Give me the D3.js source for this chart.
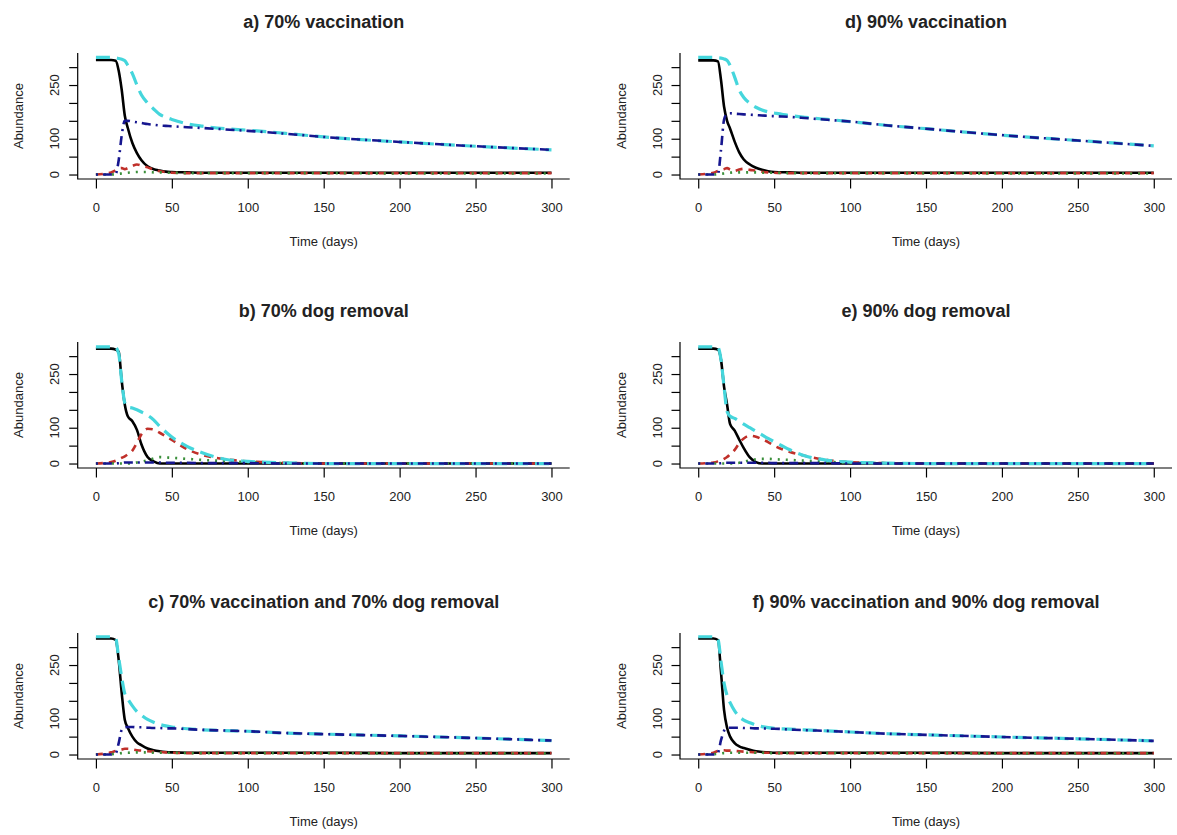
<!DOCTYPE html>
<html>
<head>
<meta charset="utf-8">
<script src="https://cdn.jsdelivr.net/npm/d3@7"></script>
<style>
  body { margin: 0; background: #fff; }
  svg { font-family: "Liberation Sans", Arial, sans-serif; }
</style>
</head>
<body>
<svg id="chart" width="1177" height="835"></svg>
<script>
// shared time grid (days)
const days = [0, 10, 13, 15, 17, 19, 21, 24, 27, 30, 34, 38, 42, 46, 50, 60, 70, 85, 100, 125, 150, 200, 250, 300];

// a) 70% vaccination
const aSus = [320, 320, 318, 290, 236, 165, 130, 88, 60, 40, 23, 15, 11, 8, 7, 6, 5, 5, 5, 5, 5, 5, 5, 5];
const aExp = [0, 6, 12, 17, 18, 15, 18, 24, 28, 25, 20, 14, 9, 7, 5, 4, 4, 4, 4, 4, 4, 4, 4, 4];
const aInf = [0, 0, 1, 2, 3, 4, 5, 6, 7, 7, 7, 6, 6, 5, 5, 4, 4, 4, 4, 4, 4, 3, 3, 3];
const aTot = [327, 327, 326, 324, 322, 318, 305, 282, 250, 222, 200, 183, 168, 160, 154, 142, 135, 128, 124, 115, 105, 91, 79, 69];
const aVac = [0, 0, 2, 40, 110, 150, 150, 148, 146, 144, 141, 139, 137, 136, 135, 132, 130, 126, 122, 114, 105, 91, 79, 69];

// b) 70% dog removal
const bSus = [321, 321, 318, 312, 230, 165, 132, 118, 94, 53, 18, 6, 0, 0, 0, 0, 0, 0, 0, 0, 0, 0, 0, 0];
const bExp = [0, 4, 8, 12, 16, 20, 26, 36, 58, 82, 97, 95, 86, 76, 66, 40, 24, 12, 6, 2, 0, 0, 0, 0];
const bInf = [0, 0, 0, 0, 0, 0, 0, 1, 3, 5, 9, 14, 18, 17, 16, 13, 10, 7, 4, 1, 0, 0, 0, 0];
const bTot = [326, 326, 324, 307, 230, 170, 158, 155, 150, 144, 135, 122, 104, 88, 74, 48, 30, 12, 6, 2, 0, 0, 0, 0];
const bVac = [0, 0, 0, 1, 2, 3, 3, 3, 3, 3, 3, 3, 3, 2, 2, 2, 1, 1, 1, 0, 0, 0, 0, 0];

// c) 70% vaccination and 70% dog removal
const cSus = [324, 324, 320, 264, 171, 97, 75, 50, 34, 26, 17, 12, 9, 7, 6, 5, 5, 5, 5, 5, 5, 4, 4, 4];
const cExp = [0, 6, 10, 12, 14, 16, 16, 14, 12, 11, 9, 8, 7, 6, 5, 4, 4, 4, 4, 4, 4, 4, 4, 4];
const cInf = [0, 1, 2, 3, 4, 5, 5, 6, 6, 6, 6, 5, 5, 5, 5, 4, 4, 4, 4, 4, 4, 3, 3, 3];
const cTot = [329, 329, 325, 270, 215, 170, 155, 136, 120, 110, 98, 90, 84, 80, 77, 72, 69, 67, 65, 60, 57, 52, 46, 39];
const cVac = [0, 0, 3, 32, 69, 76, 77, 77, 76, 76, 75, 74, 74, 73, 73, 71, 69, 67, 65, 60, 57, 52, 46, 39];

// d) 90% vaccination
const dSus = [319, 319, 316, 264, 190, 150, 128, 92, 62, 42, 28, 19, 13, 9, 7, 6, 5, 5, 5, 5, 5, 5, 5, 5];
const dExp = [0, 5, 10, 13, 15, 18, 14, 10, 14, 16, 13, 11, 8, 6, 5, 4, 4, 4, 4, 4, 4, 4, 4, 4];
const dInf = [0, 0, 1, 2, 3, 4, 5, 6, 6, 6, 6, 6, 5, 5, 5, 4, 4, 4, 4, 4, 4, 3, 3, 3];
const dTot = [327, 327, 326, 325, 323, 319, 305, 272, 236, 215, 199, 188, 180, 175, 172, 165, 160, 154, 148, 137, 128, 110, 95, 80];
const dVac = [0, 0, 2, 69, 153, 170, 171, 170, 169, 168, 167, 166, 165, 164, 163, 161, 158, 153, 148, 137, 128, 110, 95, 80];

// e) 90% dog removal
const eSus = [321, 321, 318, 290, 215, 165, 110, 92, 67, 43, 17, 4, 0, 0, 0, 0, 0, 0, 0, 0, 0, 0, 0, 0];
const eExp = [0, 3, 6, 9, 13, 18, 26, 38, 57, 70, 78, 75, 68, 60, 50, 33, 22, 10, 4, 1, 0, 0, 0, 0];
const eInf = [0, 0, 0, 0, 0, 0, 0, 1, 2, 5, 9, 12, 13, 13, 12, 10, 8, 5, 2, 1, 0, 0, 0, 0];
const eTot = [326, 326, 324, 290, 215, 145, 132, 126, 118, 110, 100, 90, 80, 70, 61, 39, 22, 9, 4, 1, 0, 0, 0, 0];
const eVac = [0, 0, 0, 1, 2, 2, 2, 2, 2, 2, 2, 2, 2, 2, 1, 1, 1, 1, 0, 0, 0, 0, 0, 0];

// f) 90% vaccination and 90% dog removal
const fSus = [324, 324, 320, 230, 125, 75, 50, 32, 23, 18, 13, 9, 7, 6, 5, 5, 5, 5, 5, 5, 5, 4, 4, 4];
const fExp = [0, 5, 10, 12, 12, 11, 11, 10, 9, 8, 7, 6, 5, 5, 4, 4, 4, 4, 4, 4, 4, 4, 4, 4];
const fInf = [0, 1, 2, 3, 4, 4, 5, 5, 5, 5, 5, 5, 5, 4, 4, 4, 4, 4, 4, 4, 4, 3, 3, 3];
const fTot = [329, 329, 322, 260, 200, 165, 145, 122, 106, 96, 89, 82, 78, 75, 73, 71, 69, 66, 63, 58, 55, 49, 44, 38];
const fVac = [0, 0, 5, 40, 66, 74, 75, 75, 75, 74, 74, 73, 73, 72, 72, 70, 68, 66, 63, 58, 55, 49, 44, 38];

const titles = [
  "a) 70% vaccination", "b) 70% dog removal", "c) 70% vaccination and 70% dog removal",
  "d) 90% vaccination", "e) 90% dog removal", "f) 90% vaccination and 90% dog removal"
];
const xTicks = [0, 50, 100, 150, 200, 250, 300];
const yTicks = [0, 50, 100, 150, 200, 250, 300];
const yLabels = [0, 100, 250];

const panels = [
  [aSus, aExp, aInf, aTot, aVac],
  [bSus, bExp, bInf, bTot, bVac],
  [cSus, cExp, cInf, cTot, cVac],
  [dSus, dExp, dInf, dTot, dVac],
  [eSus, eExp, eInf, eTot, eVac],
  [fSus, fExp, fInf, fTot, fVac]
];

// drawing order: susceptible, exposed, infectious, total, vaccinated
const lineStyles = [
  { color: "#000000", width: 2.6, dash: null },
  { color: "#c0302a", width: 2.6, dash: "7,6" },
  { color: "#3a8f3a", width: 2.6, dash: "2,6" },
  { color: "#45d6dc", width: 3.2, dash: "14,7" },
  { color: "#16168f", width: 2.6, dash: "2,5,9,5" }
];

const colLeft = [77.7, 680];
const rowTop = [53, 342, 633];
const plotW = 492;
const plotH = 126;

const svg = d3.select("#chart");

const x = d3.scaleLinear().domain([-12, 312]).range([0, plotW]);
const y = d3.scaleLinear().domain([-12.5, 339.5]).range([plotH, 0]);

const line = d3.line()
  .x((d, i) => x(days[i]))
  .y(d => y(d))
  .curve(d3.curveMonotoneX);

panels.forEach((series, p) => {
  const col = Math.floor(p / 3), row = p % 3;
  const g = svg.append("g")
    .attr("transform", `translate(${colLeft[col]},${rowTop[row]})`);

  g.append("defs").append("clipPath").attr("id", "clip" + p)
    .append("rect").attr("x", 0).attr("y", 0).attr("width", plotW).attr("height", plotH);

  const lines = g.append("g").attr("clip-path", `url(#clip${p})`);
  series.forEach((vals, s) => {
    const st = lineStyles[s];
    lines.append("path")
      .attr("d", line(vals))
      .attr("fill", "none")
      .attr("stroke", st.color)
      .attr("stroke-width", st.width)
      .attr("stroke-dasharray", st.dash)
      .attr("stroke-linejoin", "round");
  });

  // L-shaped box
  g.append("path")
    .attr("d", `M0,0V${plotH}H${plotW}`)
    .attr("fill", "none")
    .attr("stroke", "#000")
    .attr("stroke-width", 1.2);

  const xAxis = g.append("g")
    .attr("transform", `translate(0,${plotH})`)
    .call(d3.axisBottom(x).tickValues(xTicks).tickSize(9.5).tickSizeOuter(0).tickPadding(14));
  xAxis.select(".domain").remove();
  xAxis.selectAll("line").attr("stroke-width", 1.2);
  xAxis.selectAll("text").attr("font-size", 13).attr("font-family", "Liberation Sans, Arial, sans-serif").attr("fill", "#222");

  const yAxis = g.append("g")
    .call(d3.axisLeft(y).tickValues(yTicks).tickSize(8.5).tickSizeOuter(0).tickFormat(""));
  yAxis.select(".domain").remove();
  yAxis.selectAll("line").attr("stroke-width", 1.2);

  g.selectAll(".ylab")
    .data(yLabels)
    .enter()
    .append("text")
    .attr("transform", d => `translate(-18.5,${y(d)}) rotate(-90)`)
    .attr("text-anchor", "middle")
    .attr("font-size", 13)
    .attr("fill", "#222")
    .text(d => d);

  g.append("text")
    .attr("x", plotW / 2)
    .attr("y", -25.5)
    .attr("text-anchor", "middle")
    .attr("font-size", 18)
    .attr("font-weight", "bold")
    .attr("fill", "#222")
    .text(titles[p]);

  g.append("text")
    .attr("x", plotW / 2)
    .attr("y", plotH + 67)
    .attr("text-anchor", "middle")
    .attr("font-size", 13)
    .attr("fill", "#222")
    .text("Time (days)");

  g.append("text")
    .attr("transform", `translate(-54.5,${plotH / 2}) rotate(-90)`)
    .attr("text-anchor", "middle")
    .attr("font-size", 13)
    .attr("fill", "#222")
    .text("Abundance");
});
</script>
</body>
</html>
